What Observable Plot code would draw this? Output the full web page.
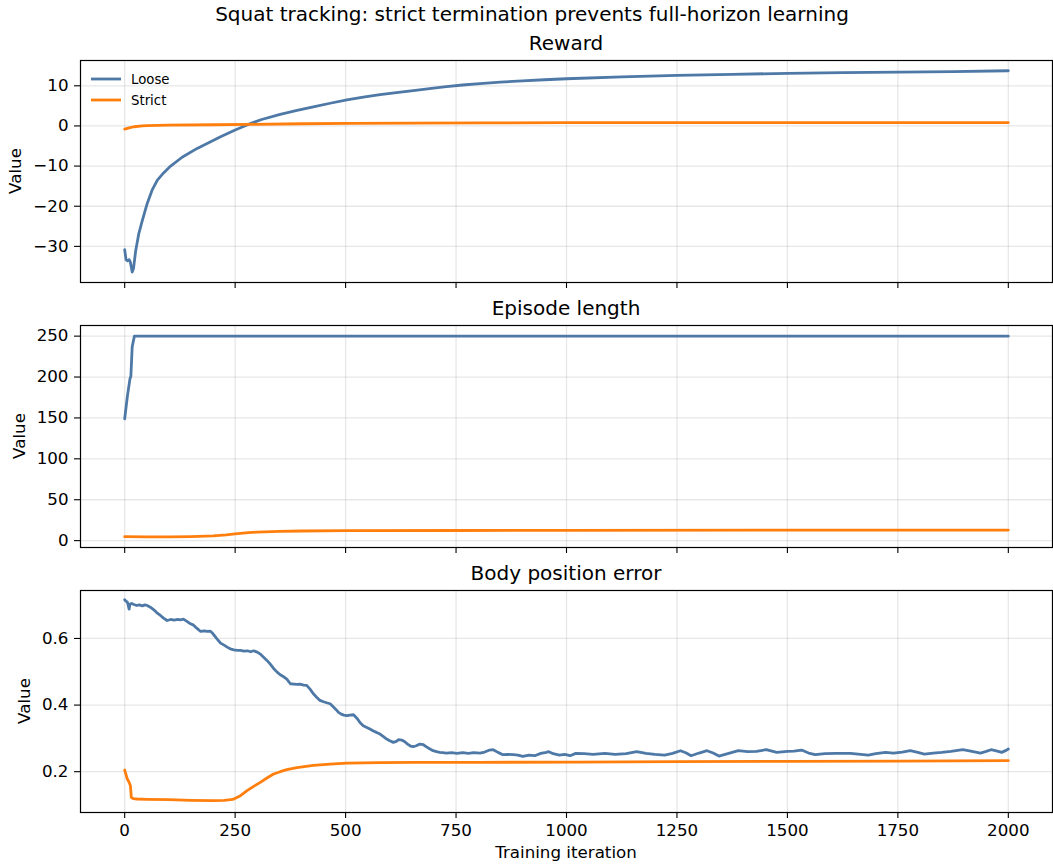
<!DOCTYPE html>
<html><head><meta charset="utf-8">
<script src="https://cdn.jsdelivr.net/npm/d3@7"></script>
<script src="https://cdn.jsdelivr.net/npm/@observablehq/plot@0.6"></script>
<style>
body{margin:0;background:#fff;}
#fig{position:relative;width:1053px;height:865px;font-family:"DejaVu Sans",sans-serif;color:#000;overflow:hidden;background:#fff;}
#overlay{position:absolute;left:0;top:0;pointer-events:none;}
</style></head><body><div id="fig"></div>
<script>
// ---- data ----
const xTicks = [0, 250, 500, 750, 1000, 1250, 1500, 1750, 2000];
const seriesNames = ["Loose", "Strict"];
const seriesColors = ["#4e79a7", "#ff7f0e"];

const rewardLooseIter = [0, 3, 6, 10, 13, 17, 20, 25, 32, 40, 51, 62, 74, 88, 104, 130, 164, 190, 217, 250, 277, 310, 352, 390, 427, 465, 503, 540, 578, 615, 653, 690, 728, 765, 804, 850, 900, 950, 1000, 1125, 1250, 1375, 1500, 1625, 1752, 1875, 2000];
const rewardLoose = [-30.8, -33.3, -33.6, -33.3, -34.0, -36.4, -35.5, -31.0, -26.8, -23.5, -19.3, -16.0, -13.5, -11.7, -10.0, -7.8, -5.6, -4.2, -2.7, -1.0, 0.25, 1.6, 2.9, 3.85, 4.75, 5.65, 6.5, 7.2, 7.8, 8.3, 8.8, 9.3, 9.8, 10.2, 10.55, 10.9, 11.25, 11.5, 11.75, 12.2, 12.6, 12.85, 13.1, 13.3, 13.4, 13.55, 13.75];
const rewardStrictIter = [0, 10, 21, 40, 51, 100, 200, 283, 400, 508, 650, 809, 1000, 1500, 2000];
const rewardStrict = [-0.8, -0.5, -0.2, 0.0, 0.1, 0.2, 0.3, 0.4, 0.55, 0.65, 0.72, 0.78, 0.8, 0.82, 0.83];

const lengthLooseIter = [0, 6, 12, 14, 17, 22, 2000];
const lengthLoose = [149, 176, 198, 201, 237, 250, 250];
const lengthStrictIter = [0, 50, 100, 150, 200, 230, 250, 280, 300, 350, 400, 500, 750, 1000, 1500, 2000];
const lengthStrict = [4.9, 4.5, 4.6, 5.0, 5.8, 7.0, 8.2, 9.8, 10.4, 11.4, 11.8, 12.2, 12.4, 12.6, 12.8, 12.9];

const errorLooseIter = [0, 3, 6, 8, 10, 12, 16, 21, 27, 33, 40, 46, 51, 58, 66, 73, 81, 88, 96, 104, 112, 120, 126, 133, 140, 149, 156, 163, 172, 180, 187, 194, 200, 208, 217, 225, 232, 239, 247, 255, 262, 270, 278, 285, 292, 300, 308, 315, 322, 330, 337, 345, 352, 360, 367, 375, 383, 390, 397, 405, 412, 420, 427, 435, 442, 450, 457, 465, 472, 478, 484, 490, 496, 503, 510, 518, 526, 533, 540, 548, 555, 563, 570, 578, 585, 593, 600, 608, 615, 620, 627, 634, 641, 647, 653, 660, 668, 676, 684, 691, 698, 706, 713, 720, 728, 740, 752, 765, 778, 790, 804, 815, 826, 834, 845, 856, 868, 880, 890, 901, 915, 928, 942, 954, 960, 970, 984, 996, 1008, 1021, 1040, 1060, 1087, 1110, 1135, 1159, 1180, 1200, 1222, 1240, 1258, 1270, 1282, 1300, 1318, 1332, 1345, 1365, 1389, 1410, 1430, 1452, 1476, 1500, 1515, 1532, 1548, 1563, 1585, 1610, 1643, 1660, 1683, 1700, 1722, 1740, 1760, 1778, 1795, 1810, 1830, 1849, 1870, 1897, 1915, 1937, 1950, 1961, 1975, 1985, 1995, 2000];
const errorLoose = [0.716, 0.712, 0.709, 0.700, 0.688, 0.703, 0.705, 0.702, 0.699, 0.701, 0.698, 0.701, 0.699, 0.694, 0.686, 0.677, 0.669, 0.661, 0.654, 0.657, 0.655, 0.657, 0.656, 0.658, 0.652, 0.644, 0.640, 0.631, 0.621, 0.623, 0.621, 0.622, 0.614, 0.600, 0.586, 0.580, 0.574, 0.569, 0.566, 0.564, 0.564, 0.562, 0.563, 0.560, 0.563, 0.559, 0.552, 0.543, 0.534, 0.522, 0.510, 0.499, 0.491, 0.485, 0.478, 0.464, 0.463, 0.462, 0.463, 0.460, 0.459, 0.447, 0.434, 0.423, 0.414, 0.410, 0.407, 0.404, 0.395, 0.387, 0.378, 0.373, 0.370, 0.368, 0.370, 0.371, 0.360, 0.347, 0.338, 0.333, 0.328, 0.322, 0.318, 0.313, 0.306, 0.298, 0.293, 0.288, 0.291, 0.296, 0.295, 0.290, 0.282, 0.277, 0.275, 0.278, 0.283, 0.281, 0.274, 0.268, 0.263, 0.260, 0.258, 0.257, 0.256, 0.257, 0.255, 0.257, 0.255, 0.257, 0.256, 0.259, 0.265, 0.266, 0.258, 0.251, 0.252, 0.251, 0.250, 0.246, 0.250, 0.248, 0.255, 0.258, 0.260, 0.254, 0.250, 0.252, 0.248, 0.255, 0.254, 0.252, 0.255, 0.252, 0.254, 0.260, 0.255, 0.252, 0.250, 0.255, 0.263, 0.257, 0.248, 0.256, 0.263, 0.256, 0.247, 0.254, 0.263, 0.260, 0.261, 0.266, 0.258, 0.261, 0.262, 0.265, 0.256, 0.251, 0.254, 0.255, 0.255, 0.253, 0.250, 0.254, 0.258, 0.256, 0.259, 0.263, 0.258, 0.253, 0.256, 0.258, 0.261, 0.266, 0.262, 0.256, 0.261, 0.266, 0.262, 0.258, 0.264, 0.268];
const errorStrictIter = [0, 6, 10, 13, 15, 20, 28, 50, 100, 150, 200, 225, 240, 247, 262, 277, 292, 307, 322, 337, 352, 367, 390, 427, 465, 503, 578, 653, 800, 1021, 1250, 1500, 1750, 2000];
const errorStrict = [0.205, 0.178, 0.168, 0.158, 0.123, 0.119, 0.118, 0.117, 0.116, 0.114, 0.113, 0.114, 0.116, 0.118, 0.128, 0.143, 0.156, 0.168, 0.181, 0.193, 0.200, 0.206, 0.212, 0.219, 0.223, 0.226, 0.227, 0.228, 0.228, 0.229, 0.230, 0.231, 0.232, 0.233];

const panelTitles = ["Reward", "Episode length", "Body position error"];
const figTitle = "Squat tracking: strict termination prevents full-horizon learning";
const xLabel = "Training iteration";
const yLabel = "Value";
const rewardTicks = [-30, -20, -10, 0, 10];
const lengthTicks = [0, 50, 100, 150, 200, 250];
const errorTicks = [0.2, 0.4, 0.6];

// ---- build ----
const toRows = (xs, ys) => xs.map((x, i) => ({x, y: ys[i]}));
const fig = document.getElementById("fig");
const W = 1053, AX_L = 80, AX_R = 1052, AX_H = 222, FS = 16.7, LW = 2.8;
const minus = d => (d < 0 ? "\u2212" + Math.abs(d) : String(d));

const panels = [
  {top: 60, domain: [-39, 16.3], ticks: rewardTicks, fmt: minus,
   lines: [toRows(rewardLooseIter, rewardLoose), toRows(rewardStrictIter, rewardStrict)], labels: false, labelX: 21},
  {top: 325, domain: [-8.4, 263], ticks: lengthTicks, fmt: minus,
   lines: [toRows(lengthLooseIter, lengthLoose), toRows(lengthStrictIter, lengthStrict)], labels: false, labelX: 25},
  {top: 590, domain: [0.0775, 0.744], ticks: errorTicks, fmt: d3.format(".1f"),
   lines: [toRows(errorLooseIter, errorLoose), toRows(errorStrictIter, errorStrict)], labels: true, labelX: 30}
];

panels.forEach((p, i) => {
  const mt = 2, mb = p.labels ? 40 : 12;
  const chart = Plot.plot({
    width: W, height: mt + AX_H + mb,
    marginTop: mt, marginBottom: mb, marginLeft: AX_L, marginRight: W - AX_R,
    style: {fontFamily: "DejaVu Sans, sans-serif", fontSize: FS + "px", color: "#000", background: "transparent", overflow: "visible"},
    x: {domain: [-100, 2100]},
    y: {domain: p.domain},
    marks: [
      Plot.gridX(xTicks, {stroke: "#b0b0b0", strokeOpacity: 0.3, strokeWidth: 1.3}),
      Plot.gridY(p.ticks, {stroke: "#b0b0b0", strokeOpacity: 0.3, strokeWidth: 1.3}),
      ...p.lines.map((rows, k) => Plot.line(rows, {x: "x", y: "y", stroke: seriesColors[k], strokeWidth: LW})),
      Plot.frame({stroke: "#000", strokeWidth: 1.2}),
      Plot.axisX(xTicks, {tickSize: 6, tickPadding: 6, strokeWidth: 1.1, label: null, fontSize: FS, fill: "#000",
        tickFormat: p.labels ? (d => String(d)) : (() => "")}),
      Plot.axisY(p.ticks, {tickSize: 6, tickPadding: 6, strokeWidth: 1.1, label: null, fontSize: FS, fill: "#000", tickFormat: p.fmt})
    ]
  });
  chart.style.position = "absolute";
  chart.style.left = "0px";
  chart.style.top = (p.top - mt) + "px";
  chart.style.fontSize = FS + "px";
  chart.style.fontFamily = "DejaVu Sans, sans-serif";
  chart.style.overflow = "visible";
  fig.appendChild(chart);
});

// overlay text
const svg = d3.select(fig).append("svg").attr("id", "overlay").attr("width", W).attr("height", 865)
  .style("font-family", "DejaVu Sans, sans-serif");
svg.append("text").attr("x", 532).attr("y", 21).attr("text-anchor", "middle").attr("font-size", 20).text(figTitle);
panels.forEach((p, i) => {
  svg.append("text").attr("x", (AX_L + AX_R) / 2).attr("y", p.top - 10).attr("text-anchor", "middle")
    .attr("font-size", 20).text(panelTitles[i]);
  const cy = p.top + AX_H / 2;
  svg.append("text").attr("transform", `translate(${p.labelX},${cy}) rotate(-90)`).attr("text-anchor", "middle")
    .attr("font-size", FS).text(yLabel);
});
svg.append("text").attr("x", (AX_L + AX_R) / 2).attr("y", 858).attr("text-anchor", "middle").attr("font-size", FS).text(xLabel);

// legend (upper left of first panel)
const lg = svg.append("g");
seriesNames.forEach((name, k) => {
  const y = 79 + k * 21;
  lg.append("line").attr("x1", 91).attr("x2", 121).attr("y1", y).attr("y2", y)
    .attr("stroke", seriesColors[k]).attr("stroke-width", LW);
  lg.append("text").attr("x", 131).attr("y", y).attr("dy", "0.36em").attr("font-size", 13.3).text(name);
});
</script>
</body></html>
